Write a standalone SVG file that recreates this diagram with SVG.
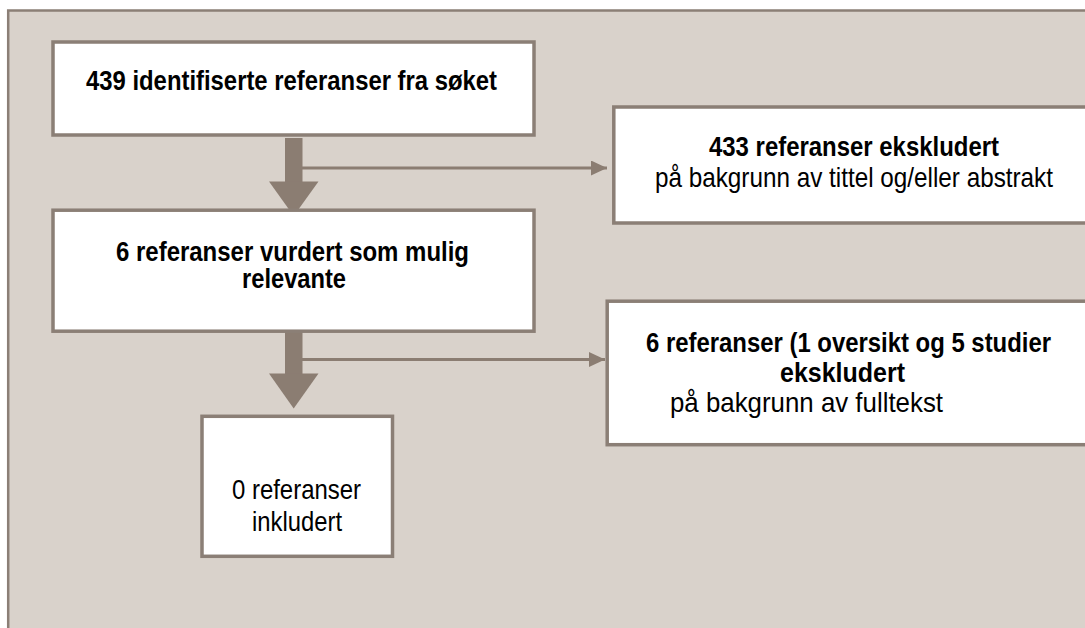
<svg xmlns="http://www.w3.org/2000/svg" width="1085" height="628" viewBox="0 0 1085 628">
  <style>
    .frame { fill: #d9d2cb; stroke: #8b7f76; stroke-width: 2.5; }
    .box { fill: #ffffff; stroke: #8b7f76; stroke-width: 3.5; }
    .t { font-family: "Liberation Sans", Arial, sans-serif; font-size: 28px; fill: #000000; }
    .b { font-weight: bold; }
    .arrow { fill: #8b7d72; }
    .line { stroke: #8b7d72; stroke-width: 3; fill: none; }
  </style>
  <defs>
    <marker id="tri" markerWidth="16" markerHeight="15" refX="16" refY="7.5" orient="auto" markerUnits="userSpaceOnUse">
      <path d="M0,0 L16,7.5 L0,15 Z" fill="#8b7d72"/>
    </marker>
  </defs>
  <rect x="0" y="0" width="1085" height="628" fill="#ffffff"/>
  <rect class="frame" x="8.2" y="10.5" width="1100" height="640"/>

  <g id="connectors">
    <rect class="arrow" x="285" y="138" width="17.5" height="44"/>
    <polygon class="arrow" points="269,181.5 318.5,181.5 293.7,216"/>
    <line class="line" x1="302" y1="168" x2="607" y2="168" marker-end="url(#tri)"/>
    <rect class="arrow" x="285" y="330" width="17.5" height="44"/>
    <polygon class="arrow" points="269,373.5 318.5,373.5 293.7,408.5"/>
    <line class="line" x1="302" y1="359.5" x2="605" y2="359.5" marker-end="url(#tri)"/>
  </g>

  <g id="node-identified">
    <rect class="box" x="53" y="42" width="481" height="93"/>
    <text class="t b" x="86" y="90" textLength="411" lengthAdjust="spacingAndGlyphs">439 identifiserte referanser fra søket</text>
  </g>

  <g id="node-possible">
    <rect class="box" x="53" y="210.2" width="481" height="121"/>
    <text class="t b" x="116" y="261" textLength="353" lengthAdjust="spacingAndGlyphs">6 referanser vurdert som mulig</text>
    <text class="t b" x="242" y="288" textLength="104" lengthAdjust="spacingAndGlyphs">relevante</text>
  </g>

  <g id="node-excluded-title">
    <rect class="box" x="613.8" y="107" width="500" height="116"/>
    <text class="t b" x="709" y="156" textLength="290" lengthAdjust="spacingAndGlyphs">433 referanser ekskludert</text>
    <text class="t" x="655" y="187" textLength="398" lengthAdjust="spacingAndGlyphs">på bakgrunn av tittel og/eller abstrakt</text>
  </g>

  <g id="node-excluded-fulltext">
    <rect class="box" x="607.2" y="301.2" width="500" height="143.5"/>
    <text class="t b" x="646" y="352" textLength="405" lengthAdjust="spacingAndGlyphs">6 referanser (1 oversikt og 5 studier</text>
    <text class="t b" x="780" y="382" textLength="125" lengthAdjust="spacingAndGlyphs">ekskludert</text>
    <text class="t" x="670" y="412" textLength="273" lengthAdjust="spacingAndGlyphs">på bakgrunn av fulltekst</text>
  </g>

  <g id="node-included">
    <rect class="box" x="202" y="416.3" width="190.5" height="140"/>
    <text class="t" x="232" y="499" textLength="129" lengthAdjust="spacingAndGlyphs">0 referanser</text>
    <text class="t" x="252" y="531" textLength="90" lengthAdjust="spacingAndGlyphs">inkludert</text>
  </g>
</svg>
